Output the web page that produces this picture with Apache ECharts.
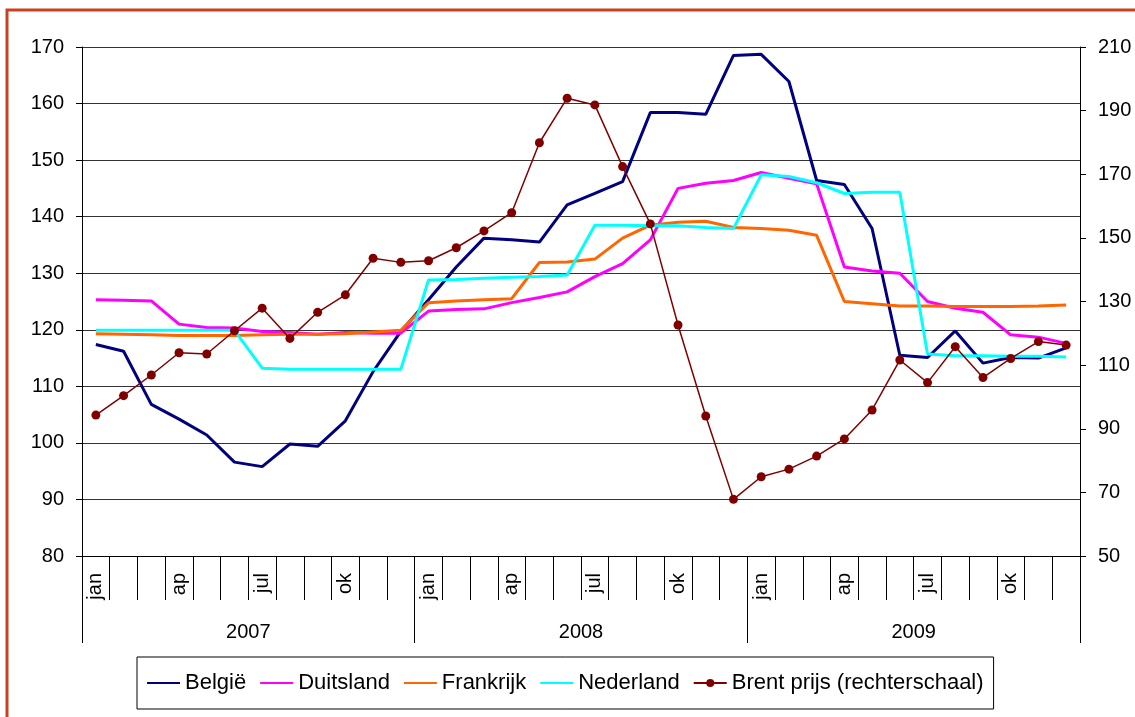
<!DOCTYPE html>
<html>
<head>
<meta charset="utf-8">
<title>Prijzen en Brent</title>
<script src="https://cdn.jsdelivr.net/npm/echarts@6/dist/echarts.min.js"></script>
<style>
  html, body { margin: 0; padding: 0; background: #fff; }
  #chart { width: 1135px; height: 717px; }
</style>
</head>
<body>
<div id="chart"></div>
<script>
// maanden jan 2007 - dec 2009
const categories = [
  '2007-01','2007-02','2007-03','2007-04','2007-05','2007-06','2007-07','2007-08','2007-09','2007-10','2007-11','2007-12',
  '2008-01','2008-02','2008-03','2008-04','2008-05','2008-06','2008-07','2008-08','2008-09','2008-10','2008-11','2008-12',
  '2009-01','2009-02','2009-03','2009-04','2009-05','2009-06','2009-07','2009-08','2009-09','2009-10','2009-11','2009-12'
];
const monthLabels = [
  'jan','','','ap','','','jul','','','ok','','',
  'jan','','','ap','','','jul','','','ok','','',
  'jan','','','ap','','','jul','','','ok','',''
];
const years = ['2007', '2008', '2009'];

// linkerschaal
const belgie = [117.4, 116.2, 106.8, 104.2, 101.4, 96.6, 95.8, 99.8, 99.4, 103.9, 112.6, 119.7,
  125.3, 131.1, 136.2, 135.9, 135.5, 142.1, 144.1, 146.2, 158.4, 158.4, 158.1, 168.5,
  168.7, 163.9, 146.4, 145.7, 137.9, 115.5, 115.1, 119.8, 114.1, 115.1, 115.0, 116.8];
const duitsland = [125.3, 125.2, 125.1, 121.0, 120.4, 120.3, 119.7, 119.5, 119.2, 119.5, 119.4, 119.4,
  123.3, 123.6, 123.7, 124.8, 125.7, 126.7, 129.4, 131.7, 135.9, 145.0, 145.9, 146.4,
  147.8, 146.8, 145.8, 131.1, 130.4, 130.0, 125.0, 123.8, 123.1, 119.1, 118.7, 117.6];
const frankrijk = [119.3, 119.2, 119.1, 119.0, 119.0, 119.0, 119.1, 119.2, 119.2, 119.3, 119.6, 119.9,
  124.8, 125.1, 125.3, 125.5, 131.9, 132.0, 132.5, 136.2, 138.5, 139.0, 139.2, 138.1,
  137.9, 137.6, 136.7, 125.0, 124.6, 124.2, 124.2, 124.1, 124.1, 124.1, 124.2, 124.4];
const nederland = [119.9, 119.9, 119.9, 119.9, 119.9, 119.9, 113.2, 113.0, 113.0, 113.0, 113.0, 113.0,
  128.8, 128.9, 129.1, 129.3, 129.4, 129.7, 138.5, 138.5, 138.4, 138.4, 138.1, 137.9,
  147.4, 147.1, 146.0, 144.1, 144.3, 144.3, 115.7, 115.4, 115.4, 115.3, 115.3, 115.2];
// rechterschaal
const brent = [94.3, 100.4, 106.9, 113.9, 113.5, 120.8, 127.9, 118.4, 126.6, 132.1, 143.6, 142.3,
  142.8, 146.9, 152.2, 157.9, 179.9, 193.9, 191.8, 172.4, 154.4, 122.6, 94.0, 67.8,
  74.9, 77.3, 81.4, 86.8, 95.9, 111.6, 104.5, 115.8, 106.1, 112.1, 117.4, 116.3];

const font = 'Liberation Sans, Arial, sans-serif';
const chart = echarts.init(document.getElementById('chart'));

function countryLine(name, data, color) {
  return {
    name: name,
    type: 'line',
    data: data,
    symbol: 'none',
    lineStyle: { color: color, width: 3 },
    itemStyle: { color: color },
    animation: false
  };
}

// legenda: alleen lijn voor de landen, lijn + bol voor Brent
const noDot = { opacity: 0 };

const option = {
  backgroundColor: '#fff',
  textStyle: { fontFamily: font },
  graphic: [{
    type: 'rect',
    shape: { x: 7, y: 10, width: 2000, height: 2000 },
    style: { fill: 'none', stroke: '#C8421F', lineWidth: 3 },
    silent: true
  }],
  grid: { left: 82, right: 55, top: 47, bottom: 161 },
  legend: {
    left: 137,
    top: 657,
    orient: 'horizontal',
    borderColor: '#000',
    borderWidth: 1,
    padding: [15, 10, 15, 9],
    itemGap: 13,
    itemWidth: 33,
    itemHeight: 10,
    textStyle: { fontSize: 22, color: '#000', fontFamily: font },
    data: [
      { name: 'België', itemStyle: noDot },
      { name: 'Duitsland', itemStyle: noDot },
      { name: 'Frankrijk', itemStyle: noDot },
      { name: 'Nederland', itemStyle: noDot },
      { name: 'Brent prijs (rechterschaal)' }
    ]
  },
  xAxis: [{
    type: 'category',
    data: categories,
    boundaryGap: true,
    axisLine: { show: true, lineStyle: { color: '#000', width: 1 } },
    axisTick: { show: true, interval: 0, length: 44, lineStyle: { color: '#000' } },
    axisLabel: {
      interval: 0,
      rotate: 90,
      margin: 17,
      fontSize: 20,
      color: '#000',
      fontFamily: font,
      formatter: function (v, i) { return monthLabels[i]; }
    },
    splitLine: { show: false }
  }, {
    type: 'category',
    data: years,
    position: 'bottom',
    boundaryGap: true,
    axisLine: { show: false },
    axisTick: { show: true, interval: 0, length: 87, lineStyle: { color: '#000' } },
    axisLabel: { margin: 66, fontSize: 20, color: '#000', fontFamily: font }
  }],
  yAxis: [{
    type: 'value',
    min: 80,
    max: 170,
    interval: 10,
    position: 'left',
    axisLine: { show: true, lineStyle: { color: '#000' } },
    axisTick: { show: true, length: 6, lineStyle: { color: '#000' } },
    axisLabel: { margin: 18, fontSize: 20, color: '#000', fontFamily: font },
    splitLine: { show: true, lineStyle: { color: '#333', width: 1 } }
  }, {
    type: 'value',
    min: 50,
    max: 210,
    interval: 20,
    position: 'right',
    axisLine: { show: true, lineStyle: { color: '#000' } },
    axisTick: { show: true, length: 6, lineStyle: { color: '#000' } },
    axisLabel: { margin: 18, fontSize: 20, color: '#000', fontFamily: font },
    splitLine: { show: false }
  }],
  series: [
    countryLine('België', belgie, '#000080'),
    countryLine('Duitsland', duitsland, '#FF00FF'),
    countryLine('Frankrijk', frankrijk, '#FF6600'),
    countryLine('Nederland', nederland, '#00FFFF'),
    {
      name: 'Brent prijs (rechterschaal)',
      type: 'line',
      yAxisIndex: 1,
      data: brent,
      symbol: 'circle',
      symbolSize: 9,
      showAllSymbol: true,
      lineStyle: { color: '#800000', width: 1.5 },
      itemStyle: { color: '#800000' },
      z: 5,
      animation: false
    }
  ]
};
chart.setOption(option);
</script>
</body>
</html>
